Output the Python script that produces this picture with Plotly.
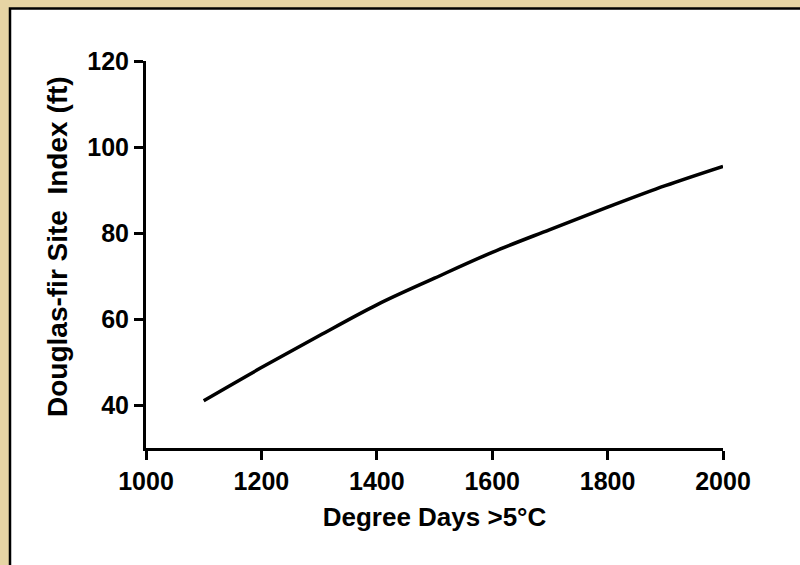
import plotly.graph_objects as go

# Data
degree_days = [1100, 1200, 1300, 1400, 1500, 1600, 1700, 1800, 1900, 2000]
site_index = [41.0, 48.7, 56.1, 63.3, 69.5, 75.5, 80.8, 86.0, 91.0, 95.5]

x_ticks = [1000, 1200, 1400, 1600, 1800, 2000]
y_ticks = [40, 60, 80, 100, 120]

W, H = 800, 565
L, R, T, B = 146, 77, 61, 117
pw, ph = W - L - R, H - T - B

def px_to_paper_x(px):
    return (px - L) / pw

def px_to_paper_y(py):
    return (H - B - py) / ph

font = "Liberation Sans, Arial, sans-serif"

fig = go.Figure()
fig.add_trace(go.Scatter(
    x=degree_days, y=site_index, mode="lines",
    line=dict(color="black", width=3.5, shape="spline"),
    showlegend=False, hoverinfo="skip",
))

fig.add_shape(
    type="rect", xref="paper", yref="paper",
    x0=px_to_paper_x(10), x1=px_to_paper_x(810),
    y0=px_to_paper_y(575), y1=px_to_paper_y(8.5),
    fillcolor="white", line=dict(color="black", width=2.5),
    layer="below",
)

fig.add_annotation(
    text="<b>Douglas-fir Site  Index (ft)</b>", textangle=-90,
    xref="paper", yref="paper",
    x=px_to_paper_x(57), y=px_to_paper_y(247),
    xanchor="center", yanchor="middle", showarrow=False,
    font=dict(family=font, size=28, color="black"),
)

fig.update_layout(
    width=W, height=H,
    margin=dict(l=L, r=R, t=T, b=B),
    paper_bgcolor="#e6d4a4",
    plot_bgcolor="rgba(0,0,0,0)",
    font=dict(family=font, size=26, color="black"),
    xaxis=dict(
        range=[1000, 2000], tickvals=x_ticks, ticktext=[str(v) for v in x_ticks],
        showline=True, linecolor="black", linewidth=3,
        ticks="outside", ticklen=9, tickwidth=3, tickcolor="black",
        showgrid=False, zeroline=False,
        tickfont=dict(family=font, size=25, color="black", weight="bold"),
        title=dict(text="<b>Degree Days >5°C</b>", font=dict(family=font, size=26), standoff=14),
    ),
    yaxis=dict(
        range=[30, 120], tickvals=y_ticks, ticktext=[str(v) for v in y_ticks],
        showline=True, linecolor="black", linewidth=3,
        ticks="outside", ticklen=9, tickwidth=3, tickcolor="black",
        showgrid=False, zeroline=False,
        tickfont=dict(family=font, size=25, color="black", weight="bold"),
    ),
)

fig.write_html("out.html")
